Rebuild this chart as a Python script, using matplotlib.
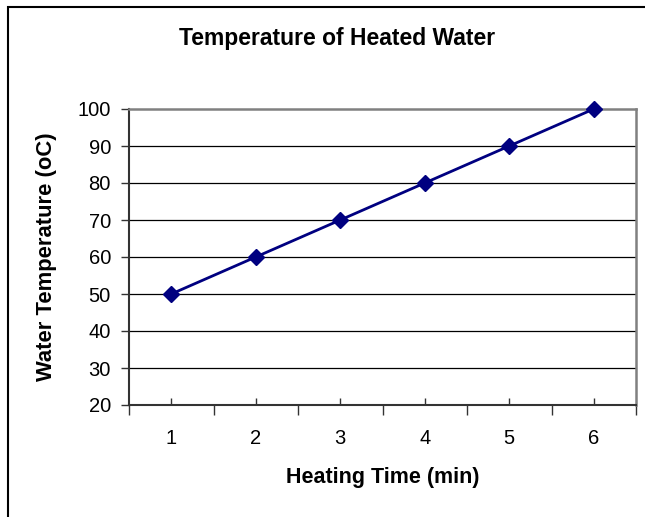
import matplotlib
matplotlib.use("Agg")
import matplotlib.pyplot as plt
from matplotlib.patches import Rectangle
from matplotlib.ticker import FixedLocator

plt.rcParams['font.family'] = ['Liberation Sans', 'DejaVu Sans']

times = [1, 2, 3, 4, 5, 6]
temps = [50, 60, 70, 80, 90, 100]
yticks = [20, 30, 40, 50, 60, 70, 80, 90, 100]

W, H = 645, 517
fig = plt.figure(figsize=(W / 100, H / 100), dpi=100)
fig.patches.append(Rectangle((7.5 / W, -0.1), 1.2, 1 - 7 / H + 0.1, transform=fig.transFigure,
                             fill=False, edgecolor='black', linewidth=1.5))

ax = fig.add_axes([129 / W, 1 - 405 / H, (636 - 129) / W, (405 - 109) / H])
ax.set_xlim(0.5, 6.5)
ax.set_ylim(20, 100)

for y in yticks[1:-1]:
    ax.axhline(y, color='black', linewidth=0.9, zorder=1)

ax.plot(times, temps, color='#000080', linewidth=2, marker='D', markersize=8.5,
        markerfacecolor='#000080', markeredgecolor='#000080', zorder=3, clip_on=False)

for s in ['top', 'right']:
    ax.spines[s].set_color('#808080')
    ax.spines[s].set_linewidth(1.8)
for s in ['left', 'bottom']:
    ax.spines[s].set_color('#333333')
    ax.spines[s].set_linewidth(1.5)

ax.set_yticks(yticks)
ax.set_yticklabels([str(v) for v in yticks], fontsize=14.5)
ax.xaxis.set_major_locator(FixedLocator([0.5 + i for i in range(7)]))
ax.set_xticklabels([])
ax.set_xticks(times, minor=True)
ax.set_xticklabels([str(t) for t in times], minor=True, fontsize=14.5)
ax.tick_params(axis='x', which='major', direction='out', length=7, width=1, color='#333333')
ax.tick_params(axis='x', which='minor', direction='in', length=5, width=1, color='#333333', pad=17)
ax.tick_params(axis='y', direction='out', length=6, width=1, color='#333333', pad=7)

fig.text(383 / W, 1 - 478 / H, 'Heating Time (min)', fontsize=15.5, fontweight='bold',
         ha='center', va='center')
fig.text(47 / W, 1 - 257 / H, 'Water Temperature (oC)', fontsize=15.8, fontweight='bold',
         ha='center', va='center', rotation=90)
fig.text(337 / W, 1 - 38 / H, 'Temperature of Heated Water', fontsize=16.5, fontweight='bold',
         ha='center', va='center')

fig.savefig('out.png', dpi=100)
